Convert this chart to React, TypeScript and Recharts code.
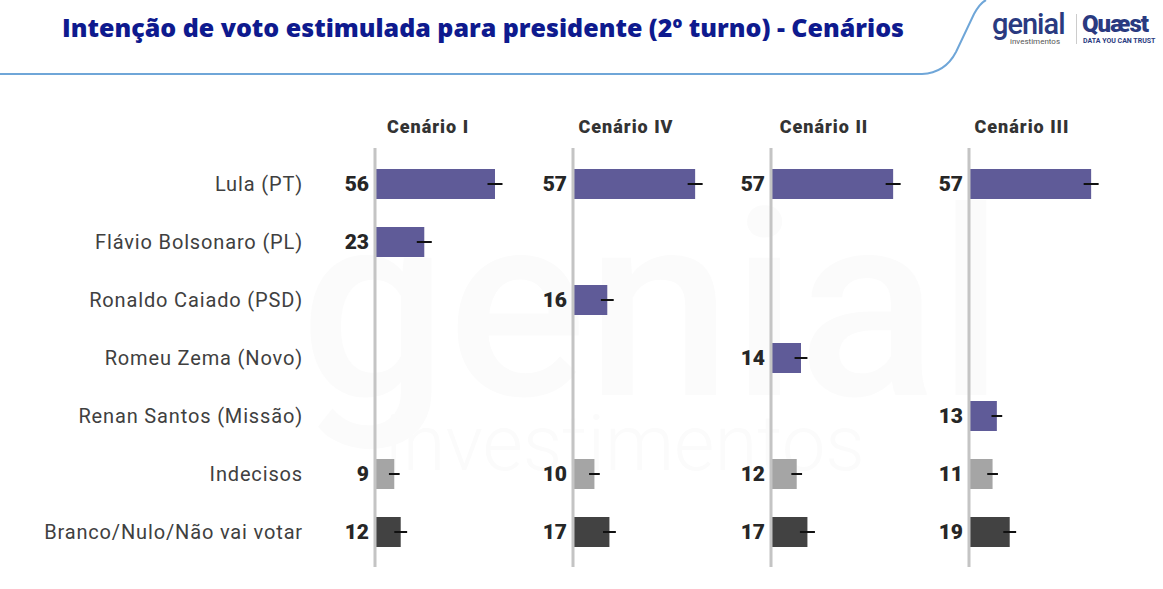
import React from 'react';
import { BarChart, Bar, XAxis, YAxis, Cell, LabelList, ErrorBar, ReferenceLine } from 'recharts';

const categories = ['Lula (PT)', 'Flávio Bolsonaro (PL)', 'Ronaldo Caiado (PSD)', 'Romeu Zema (Novo)', 'Renan Santos (Missão)', 'Indecisos', 'Branco/Nulo/Não vai votar'];
const scenarios = ['Cenário I', 'Cenário IV', 'Cenário II', 'Cenário III'];
const cenarioI = [56, 23, null, null, null, 9, 12];
const cenarioIV = [57, null, 16, null, null, 10, 17];
const cenarioII = [57, null, null, 14, null, 12, 17];
const cenarioIII = [57, null, null, null, 13, 11, 19];
const errI = [3.5, 3.5, 0, 0, 0, 2.5, 3];
const errIV = [3.5, 0, 3, 0, 0, 2.5, 3];
const errII = [3.5, 0, 0, 3, 0, 2.5, 3.5];
const errIII = [3.5, 0, 0, 0, 2.5, 2.5, 3];
const rowTypes = ['cand', 'cand', 'cand', 'cand', 'cand', 'undecided', 'blank'];

const series = [cenarioI, cenarioIV, cenarioII, cenarioIII];
const errors = [errI, errIV, errII, errIII];
const colorFor: Record<string, string> = { cand: '#5F5B98', undecided: '#A5A5A5', blank: '#424242' };

const FONT = 'Roboto, "Noto Sans", sans-serif';
const AXIS0 = 375;
const STEP = 198;
const PLOT_W = 180;

function CatTick(props: any) {
  const { x, y, payload } = props;
  return (
    <text x={x - 64} y={y} dy={7} textAnchor="end" fontFamily={FONT} fontSize={20} fill="#404040" letterSpacing={0.85}>
      {payload.value}
    </text>
  );
}

function Panel({ idx }: { idx: number }) {
  const vals = series[idx];
  const errs = errors[idx];
  const data = categories.map((c, i) => ({ cat: c, v: vals[i], e: vals[i] == null ? null : errs[i], t: rowTypes[i] }));
  const first = idx === 0;
  const axisX = AXIS0 + STEP * idx;
  const leftPad = first ? 0 : 60;
  const yw = first ? AXIS0 : 0;
  const left = first ? 0 : axisX - leftPad;
  const width = (first ? AXIS0 : leftPad) + PLOT_W + 18;
  return (
    <div style={{ position: 'absolute', left, top: 0 }}>
      <BarChart
        width={width}
        height={589}
        data={data}
        layout="vertical"
        margin={{ top: 148, bottom: 22, left: leftPad, right: 18 }}
        barCategoryGap={14}
      >
        <XAxis type="number" domain={[0, 84]} hide />
        <YAxis
          type="category"
          dataKey="cat"
          width={yw}
          hide={!first}
          axisLine={false}
          tickLine={false}
          tick={<CatTick />}
          padding={{ top: 7, bottom: 6 }}
          interval={0}
        />
        <Bar dataKey="v" isAnimationActive={false} barSize={30}>
          {data.map((d, i) => (
            <Cell key={i} fill={colorFor[d.t]} />
          ))}
          <ErrorBar dataKey="e" direction="x" width={0} stroke="#111" strokeWidth={2} />
          <LabelList
            dataKey="v"
            position="left"
            offset={6}
            formatter={(v: any) => (v == null ? '' : v)}
            style={{ fontFamily: FONT, fontSize: 21, fontWeight: 900, fill: '#262626' }}
          />
        </Bar>
        <ReferenceLine x={0} stroke="#C4C4C4" strokeWidth={3} />
      </BarChart>
    </div>
  );
}

export default function App() {
  return (
    <div style={{ position: 'absolute', left: 0, top: 0, width: 1163, height: 589, background: '#fff', overflow: 'hidden', fontFamily: FONT }}>
      <svg width={1163} height={589} style={{ position: 'absolute', left: 0, top: 0 }}>
        <text x={300} y={395} fontFamily={FONT} fontSize={260} fill="#FBFBFB" fontWeight={500}>genial</text>
        <text x={385} y={470} fontFamily={FONT} fontSize={78} fill="#FBFBFB" fontWeight={300}>investimentos</text>
        <path d="M0 74 L922 74 Q945 73 956 52 L974 14 Q980 3 986 0" stroke="#6FA6D8" strokeWidth={2} fill="none" />
      </svg>
      <div style={{ position: 'absolute', left: 62, top: 9, fontFamily: '"Open Sans", Roboto, sans-serif', fontSize: 25, fontWeight: 800, color: '#0E1A8E', whiteSpace: 'nowrap', letterSpacing: 0, lineHeight: '36px' }}>
        Intenção de voto estimulada para presidente (2º turno) - Cenários
      </div>
      <div style={{ position: 'absolute', left: 992, top: 9, color: '#2A3A80', fontSize: 29, fontWeight: 500, letterSpacing: -1, lineHeight: '30px' }}>genial</div>
      <div style={{ position: 'absolute', left: 1010, top: 37, color: '#555', fontSize: 8, lineHeight: '9px' }}>investimentos</div>
      <div style={{ position: 'absolute', left: 1076, top: 14, width: 1, height: 30, background: '#ccc' }} />
      <div style={{ position: 'absolute', left: 1082, top: 10, color: '#2A3A80', fontSize: 24, fontWeight: 900, letterSpacing: -1, lineHeight: '28px' }}>Quæst</div>
      <div style={{ position: 'absolute', left: 1083, top: 37, color: '#2A3A80', fontSize: 7, fontWeight: 700, lineHeight: '9px', whiteSpace: 'nowrap' }}>DATA YOU CAN TRUST</div>
      {scenarios.map((s, i) => (
        <div key={s} style={{ position: 'absolute', left: AXIS0 + STEP * i + 53 - 70, width: 140, top: 116, textAlign: 'center', fontSize: 18, fontWeight: 900, color: '#333', letterSpacing: 1 }}>
          {s}
        </div>
      ))}
      {[0, 1, 2, 3].map((i) => (
        <Panel key={i} idx={i} />
      ))}
    </div>
  );
}
